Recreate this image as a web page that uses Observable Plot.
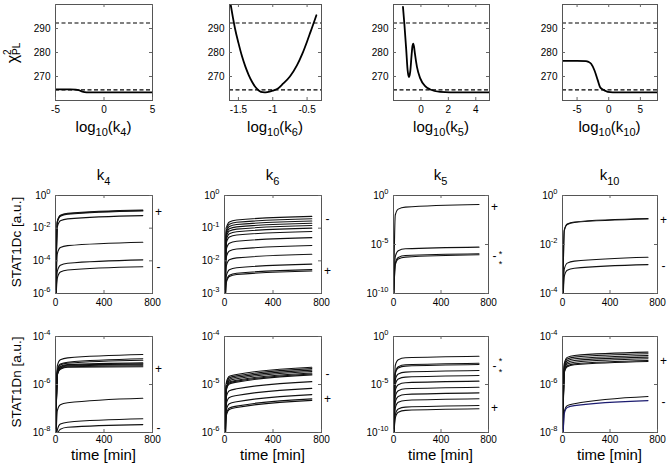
<!DOCTYPE html>
<html><head><meta charset="utf-8">
<script src="https://cdn.jsdelivr.net/npm/d3@7"></script>
<script src="https://cdn.jsdelivr.net/npm/@observablehq/plot@0.6"></script>
<style>
body{margin:0;background:#fff}
#fig{position:relative;width:671px;height:471px;background:#fff;overflow:hidden}
#fig svg{position:absolute}
</style></head><body><div id="fig"></div>
<script>
// ---------- data ----------
const params = ["4", "6", "5", "10"];
const chiThresholds = [264.4, 292.3];
const chiTicks = [270, 280, 290];

// profile likelihoods (log10 parameter value, chi2_PL)
const k4X   = [-5, -3.5, -2.9, -2.6, -2.3, -2.0, -1.6, 0, 5];
const k4Chi = [264.6, 264.6, 264.55, 264.3, 263.8, 263.5, 263.4, 263.4, 263.4];
const k6X   = [-1.612, -1.58, -1.55, -1.5, -1.45, -1.4, -1.35, -1.3, -1.25, -1.2, -1.15, -1.12, -1.08, -1.0, -0.93, -0.85, -0.75, -0.65, -0.57, -0.5, -0.45, -0.4, -0.365];
const k6Chi = [299.8, 294.5, 290.0, 284.0, 278.6, 274.2, 270.6, 267.7, 265.5, 264.1, 263.45, 263.4, 263.5, 264.1, 264.9, 267.0, 270.0, 274.5, 279.4, 284.6, 288.6, 292.6, 295.5];
const k5X   = [-1.31, -1.21, -1.07, -0.97, -0.92, -0.87, -0.82, -0.78, -0.68, -0.62, -0.56, -0.5, -0.44, -0.29, -0.05, 0.31, 0.68, 1.4, 2.13, 5];
const k5Chi = [299.0, 292.1, 281.0, 272.6, 270.6, 269.8, 270.6, 272.0, 279.0, 282.6, 283.7, 282.3, 279.6, 274.0, 269.2, 266.0, 264.6, 263.6, 263.4, 263.4];
const k10X   = [-7.3, -5, -3.6, -3.2, -2.78, -2.26, -1.74, -1.36, -0.95, -0.5, -0.16, 0.63, 7.7];
const k10Chi = [276.5, 276.5, 276.4, 276.1, 275.3, 272.6, 268.5, 265.5, 264.6, 264.0, 263.6, 263.4, 263.4];

// time courses: log10 values at these times [min]
const timeGrid = [0, 15, 40, 100, 720];
const timeTicks = [0, 400, 800];

const k4Dc = [
  [-7, -1.62, -1.24, -1.12, -0.92], [-7, -1.65, -1.27, -1.15, -0.95], [-7, -1.59, -1.21, -1.09, -0.89],
  [-7, -1.93, -1.55, -1.43, -1.23], [-7, -3.57, -3.19, -3.07, -2.86], [-7, -4.65, -4.27, -4.15, -3.94],
  [-7, -5.06, -4.68, -4.56, -4.36]];
const k6Dc = [
  [-4, -1.00, -0.81, -0.75, -0.64], [-4, -1.07, -0.88, -0.82, -0.71], [-4, -1.14, -0.95, -0.89, -0.78],
  [-4, -1.21, -1.02, -0.96, -0.85], [-4, -1.28, -1.09, -1.03, -0.92], [-4, -1.36, -1.17, -1.11, -1.00],
  [-4, -1.46, -1.27, -1.21, -1.10], [-4, -1.65, -1.46, -1.40, -1.29], [-4, -1.89, -1.70, -1.64, -1.53],
  [-4, -2.16, -1.97, -1.91, -1.80], [-4, -2.46, -2.27, -2.21, -2.10], [-4, -2.63, -2.44, -2.38, -2.27],
  [-4, -2.67, -2.48, -2.42, -2.31]];
const k5Dc = [
  [-11, -1.99, -1.39, -1.19, -0.92], [-11, -6.24, -5.64, -5.44, -5.27],
  [-11, -6.92, -6.32, -6.12, -5.95], [-11, -7.09, -6.49, -6.29, -6.05]];
const k10Dc = [
  [-5, -1.43, -1.18, -1.10, -0.96], [-5, -1.41, -1.16, -1.08, -0.94],
  [-5, -3.01, -2.76, -2.68, -2.52], [-5, -3.30, -3.05, -2.97, -2.82]];

const k4Dn = [
  [-9, -5.22, -4.97, -4.89, -4.75], [-9, -5.40, -5.15, -5.07, -4.93], [-9, -5.44, -5.19, -5.11, -4.99],
  [-9, -5.50, -5.25, -5.17, -5.10], [-9, -5.53, -5.28, -5.20, -5.14], [-9, -5.56, -5.31, -5.23, -5.18],
  [-9, -5.59, -5.34, -5.26, -5.22], [-9, -5.61, -5.36, -5.28, -5.26], [-9, -7.09, -6.84, -6.76, -6.57],
  [-9, -7.90, -7.65, -7.57, -7.43], [-9, -8.11, -7.86, -7.78, -7.67]];
const k6Dn = [
  [-7, -4.96, -4.83, -4.79, -4.64], [-7, -4.99, -4.86, -4.82, -4.67], [-7, -5.02, -4.89, -4.85, -4.70],
  [-7, -5.05, -4.92, -4.88, -4.73], [-7, -5.08, -4.95, -4.91, -4.76], [-7, -5.10, -4.97, -4.93, -4.78],
  [-7, -5.12, -4.99, -4.95, -4.80], [-7, -5.26, -5.13, -5.09, -4.94], [-7, -5.40, -5.27, -5.23, -5.08],
  [-7, -5.53, -5.40, -5.36, -5.21], [-7, -5.62, -5.49, -5.45, -5.30], [-7, -5.65, -5.52, -5.48, -5.33]];
const k5Dn = [
  [-11, -3.02, -2.42, -2.22, -2.05], [-11, -3.75, -3.15, -2.95, -2.78], [-11, -3.89, -3.29, -3.09, -2.92],
  [-11, -4.51, -3.91, -3.71, -3.54], [-11, -5.03, -4.43, -4.23, -4.06], [-11, -5.62, -5.02, -4.82, -4.65],
  [-11, -6.25, -5.65, -5.45, -5.28], [-11, -6.84, -6.24, -6.04, -5.87], [-11, -7.46, -6.86, -6.66, -6.49],
  [-11, -8.16, -7.56, -7.36, -7.19], [-11, -8.50, -7.90, -7.70, -7.53]];
const k10Dn = [
  [-9, -5.12, -4.87, -4.79, -4.65], [-9, -5.19, -4.94, -4.86, -4.72], [-9, -5.26, -5.01, -4.93, -4.79],
  [-9, -5.33, -5.08, -5.00, -4.86], [-9, -5.40, -5.15, -5.07, -4.93], [-9, -5.47, -5.22, -5.14, -5.00],
  [-9, -5.51, -5.26, -5.18, -5.04], [-9, -7.13, -6.88, -6.80, -6.50], [-9, -7.21, -6.96, -6.88, -6.67]];

// log10 axis ranges and ticks
const dcDomains = [[-6, 0], [-3, 0], [-10, 0], [-4, 0]];
const dcTicks   = [[-6, -4, -2, 0], [-3, -2, -1, 0], [-10, -5, 0], [-4, -2, 0]];
const dnDomains = [[-8, -4], [-6, -4], [-10, 0], [-8, -4]];
const dnTicks   = [[-8, -6, -4], [-6, -5, -4], [-10, -5, 0], [-8, -6, -4]];

// sign markers at the right of the panels: [symbol, log10 level]
const dcMarks = [
  [["+", -1.0], ["-", -4.4]],
  [["-", -0.71], ["+", -2.33]],
  [["+", -1.2], ["-", -6.19], ["*", -5.66], ["*", -6.7]],
  [["+", -0.99], ["-", -2.9]]];
const dnMarks = [
  [["+", -5.35], ["-", -7.8]],
  [["-", -4.78], ["+", -5.31]],
  [["-", -3.09], ["*", -2.3], ["*", -3.35], ["+", -7.5]],
  [["+", -5.03], ["-", -6.74]]];

// ---------- layout ----------
const FONT = "'Liberation Sans', Arial, Helvetica, sans-serif";
const fig = document.getElementById("fig");
const SVGNS = "http://www.w3.org/2000/svg";
const colsTop = [[55, 152], [229, 321], [393, 489], [562, 657]];
const colsLow = [[55, 152], [224, 321], [393, 488], [562, 657]];
const rowTop = [4, 100], rowMid = [195, 293], rowBot = [336, 432];

function supFix(svg) {
  svg.querySelectorAll("text").forEach(t => {
    const m = /^10\^(-?\d+)$/.exec(t.textContent);
    if (!m) return;
    t.textContent = "10";
    const ts = document.createElementNS(SVGNS, "tspan");
    ts.setAttribute("dy", "-0.6em");
    ts.setAttribute("font-size", "7.5");
    ts.textContent = m[1];
    t.appendChild(ts);
  });
}

function addPanel([L, R], [T, B], x, y, xTicks, yTicks, yFmt, marks, xPad) {
  const ml = 45, mr = 30, mt = 14, mb = 22;
  const W = R - L, H = B - T;
  const svg = Plot.plot({
    width: W + ml + mr, height: H + mt + mb,
    marginLeft: ml, marginRight: mr, marginTop: mt, marginBottom: mb,
    style: {fontFamily: FONT, fontSize: "10px", background: "transparent", overflow: "visible", color: "#000"},
    x, y,
    marks: [
      ...marks,
      Plot.frame({stroke: "#555", strokeWidth: 1}),
      Plot.ruleX(xTicks, {insetTop: H - 3, stroke: "#666"}),
      Plot.ruleX(xTicks, {insetBottom: H - 3, stroke: "#666"}),
      Plot.ruleY(yTicks, {insetRight: W - 3, stroke: "#666"}),
      Plot.ruleY(yTicks, {insetLeft: W - 3, stroke: "#666"}),
      Plot.axisX({ticks: xTicks, tickSize: 0, tickPadding: xPad, tickFormat: d => String(d), label: null}),
      Plot.axisY({ticks: yTicks, tickSize: 0, tickPadding: 5, tickFormat: yFmt, label: null})
    ]
  });
  svg.style.left = (L - ml) + "px";
  svg.style.top = (T - mt) + "px";
  supFix(svg);
  fig.appendChild(svg);
}

// top row: profile likelihoods
const profiles = [[k4X, k4Chi, [-5, 5], [-5, 0, 5]], [k6X, k6Chi, [-1.63, -0.29], [-1.5, -1, -0.5]],
                  [k5X, k5Chi, [-2, 5], [0, 2, 4]], [k10X, k10Chi, [-7.3, 7.7], [-5, 0, 5]]];
profiles.forEach(([xs, ys, dom, ticks], i) => {
  const rows = xs.map((v, j) => ({x: v, y: ys[j]}));
  addPanel(colsTop[i], rowTop, {domain: dom}, {domain: [260, 300]}, ticks, chiTicks, d => String(d), [
    Plot.ruleY(chiThresholds, {stroke: "#000", strokeWidth: 1.2, strokeDasharray: "4,2.5"}),
    Plot.line(rows, {x: "x", y: "y", stroke: "#000", strokeWidth: 1.8, curve: "monotone-x", clip: true})
  ], 5);
});

// time-course rows
function timePanel(col, row, series, dom, ticks, mk, navyIndex, xPad) {
  const rows = series.flatMap((vals, s) => vals.map((v, j) => ({s, t: timeGrid[j], v})));
  const pm = mk.filter(d => d[0] !== "*"), st = mk.filter(d => d[0] === "*");
  addPanel(col, row, {domain: [0, 800]}, {type: "log", domain: dom.map(e => 10 ** e)},
    timeTicks, ticks.map(e => 10 ** e), d => "10^" + Math.round(Math.log10(d)), [
      Plot.line(rows, {x: "t", y: d => 10 ** d.v, z: "s",
        stroke: d => d.s === navyIndex ? "#1c1c70" : "#111", strokeWidth: 1.1, curve: "monotone-x", clip: true}),
      Plot.text(pm, {x: () => 800, y: d => 10 ** d[1], text: d => d[0], dx: 6, fontSize: 12, fill: "#000"}),
      Plot.text(st, {x: () => 800, y: d => 10 ** d[1], text: d => d[0], dx: 12, dy: 3, fontSize: 9, fill: "#000"})
    ], xPad);
}
const dcSeries = [k4Dc, k6Dc, k5Dc, k10Dc];
const dnSeries = [k4Dn, k6Dn, k5Dn, k10Dn];
for (let i = 0; i < 4; i++) {
  timePanel(colsLow[i], rowMid, dcSeries[i], dcDomains[i], dcTicks[i], dcMarks[i], -1, 5);
  timePanel(colsLow[i], rowBot, dnSeries[i], dnDomains[i], dnTicks[i], dnMarks[i], i === 3 ? 8 : -1, 3);
}

// ---------- text labels (overlay) ----------
const ov = document.createElementNS(SVGNS, "svg");
ov.setAttribute("width", 671); ov.setAttribute("height", 471);
ov.style.left = "0px"; ov.style.top = "0px"; ov.style.pointerEvents = "none";
ov.setAttribute("font-family", FONT);
fig.appendChild(ov);

function txt(x, y, parts, size, rotate) {
  const t = document.createElementNS(SVGNS, "text");
  t.setAttribute("text-anchor", "middle");
  t.setAttribute("font-size", size);
  t.setAttribute("fill", "#000");
  t.setAttribute("transform", `translate(${x},${y})` + (rotate ? " rotate(-90)" : ""));
  parts.forEach(p => {
    const ts = document.createElementNS(SVGNS, "tspan");
    ts.textContent = p.s;
    if (p.size) ts.setAttribute("font-size", p.size);
    if (p.dy) ts.setAttribute("dy", p.dy);
    if (p.dx) ts.setAttribute("dx", p.dx);
    t.appendChild(ts);
  });
  ov.appendChild(t);
}
const center = c => (c[0] + c[1]) / 2;
params.forEach((p, i) => {
  txt(center(colsTop[i]), 132, [{s: "log"}, {s: "10", size: 11, dy: 4}, {s: "(k", dy: -4}, {s: p, size: 11, dy: 4}, {s: ")", dy: -4}], 15);
  txt(center(colsLow[i]), 180, [{s: "k"}, {s: p, size: 11, dy: 4.5}], 15);
  txt(center(colsLow[i]), 460, [{s: "time [min]"}], 15);
});
txt(18, 53, [{s: "χ"}, {s: "2", size: 10, dy: -7}, {s: "PL", size: 10, dx: -5.6, dy: 9}], 16, true);
txt(20.5, 242, [{s: "STAT1Dc [a.u.]"}], 13.5, true);
txt(20.5, 382, [{s: "STAT1Dn [a.u.]"}], 13.5, true);
</script></body></html>
